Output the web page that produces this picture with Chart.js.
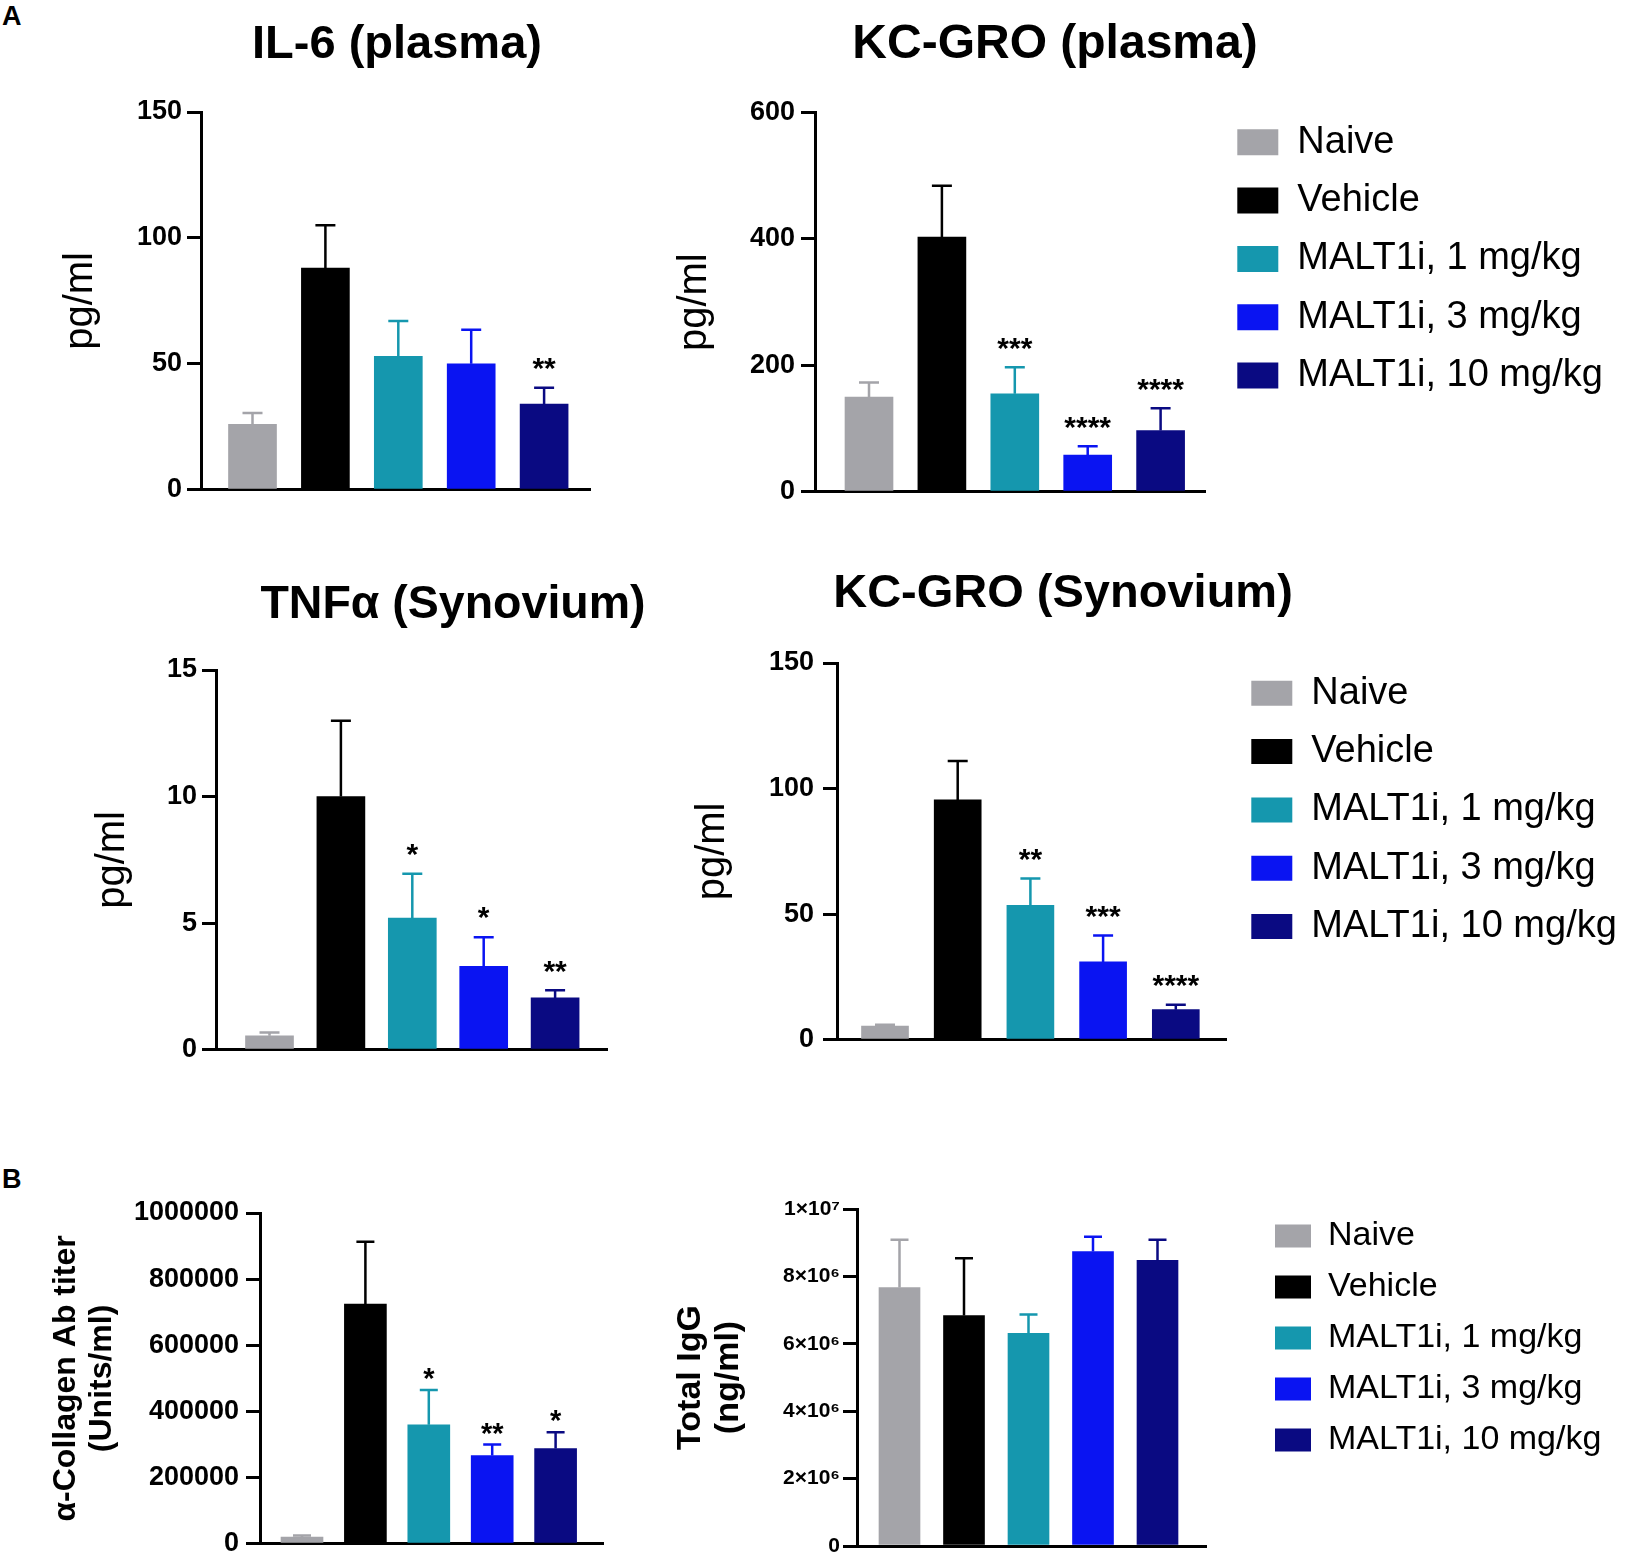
<!DOCTYPE html>
<html>
<head>
<meta charset="utf-8">
<title>MALT1i: cytokines and antibody titers</title>
<script src="https://cdn.jsdelivr.net/npm/chart.js@4.4.1/dist/chart.umd.min.js"></script>
<style>
  body { margin: 0; background: #fff; }
  #fig { position: relative; width: 1630px; height: 1565px; overflow: hidden; }
  #fig canvas { position: absolute; }
  .tag { position: absolute; font: bold 27px/27px "Liberation Sans", Arial, sans-serif; color: #000; }
</style>
</head>
<body>
<div id="fig">
  <div class="tag" style="left:2px;top:3px">A</div>
  <div class="tag" style="left:2px;top:1166px">B</div>
</div>
<script>
var groups = ['Naive', 'Vehicle', 'MALT1i, 1 mg/kg', 'MALT1i, 3 mg/kg', 'MALT1i, 10 mg/kg'];
var groupColors = ['#a4a4a9', '#000000', '#1597ae', '#0a14f2', '#0a0a82'];

// IL-6 (plasma), pg/ml
var il6Mean = [26, 88, 53, 50, 34];
var il6Sem = [4.5, 17, 14, 13.5, 6.5];
var il6Stars = ['', '', '', '', '**'];
var il6Ticks = [0, 50, 100, 150];

// KC-GRO (plasma), pg/ml
var kcPlasmaMean = [150, 403, 155, 58, 97];
var kcPlasmaSem = [23, 81, 42, 14, 35];
var kcPlasmaStars = ['', '', '***', '****', '****'];
var kcPlasmaTicks = [0, 200, 400, 600];

// TNFa (synovium), pg/ml
var tnfMean = [0.55, 10, 5.2, 3.3, 2.05];
var tnfSem = [0.13, 3.0, 1.75, 1.15, 0.3];
var tnfStars = ['', '', '*', '*', '**'];
var tnfTicks = [0, 5, 10, 15];

// KC-GRO (synovium), pg/ml
var kcSynMean = [5.5, 95.5, 53.5, 31, 12];
var kcSynSem = [0.5, 15.5, 10.7, 10.5, 2];
var kcSynStars = ['', '', '**', '***', '****'];
var kcSynTicks = [0, 50, 100, 150];

// anti-collagen Ab titer, units/ml
var collagenMean = [20000, 725000, 360000, 267000, 288000];
var collagenSem = [5000, 188000, 105000, 33000, 49000];
var collagenStars = ['', '', '*', '**', '*'];
var collagenTicks = [0, 200000, 400000, 600000, 800000, 1000000];

// total IgG, ng/ml
var iggMean = [7670000, 6840000, 6310000, 8740000, 8480000];
var iggSem = [1420000, 1700000, 560000, 440000, 610000];
var iggTicks = [0, 2000000, 4000000, 6000000, 8000000, 10000000];

var FONT = '"Liberation Sans", Arial, sans-serif';
Chart.defaults.font.family = FONT;
Chart.defaults.color = '#000';

function sup(n) {
  return String(n).split('').map(function(c) { return '⁰¹²³⁴⁵⁶⁷⁸⁹'[c]; }).join('');
}
function sciLabel(v) {
  if (v === 0) return '0';
  var e = Math.floor(Math.log10(v));
  return Math.round(v / Math.pow(10, e)) + '×10' + sup(e);
}

function makeCanvas(id, left, top, w, h) {
  var c = document.createElement('canvas');
  c.id = id;
  c.width = w;
  c.height = h;
  c.style.left = left + 'px';
  c.style.top = top + 'px';
  c.style.width = w + 'px';
  c.style.height = h + 'px';
  document.getElementById('fig').appendChild(c);
  return c;
}

// upward SEM whiskers + significance stars
var errorBarPlugin = {
  id: 'errorBars',
  afterDatasetsDraw: function(chart) {
    var ctx = chart.ctx, x = chart.scales.x, y = chart.scales.y;
    var ds = chart.data.datasets[0];
    var capW = ds.capWidth;
    ds.data.forEach(function(pt, i) {
      var px = x.getPixelForValue(pt.x);
      var top = y.getPixelForValue(pt.y);
      var cap = y.getPixelForValue(pt.y + ds.sem[i]);
      ctx.save();
      ctx.strokeStyle = groupColors[i];
      ctx.lineWidth = 2.5;
      ctx.beginPath();
      ctx.moveTo(px, top);
      ctx.lineTo(px, cap);
      ctx.moveTo(px - capW / 2, cap);
      ctx.lineTo(px + capW / 2, cap);
      ctx.stroke();
      if (ds.stars && ds.stars[i]) {
        ctx.fillStyle = '#000';
        ctx.font = ds.starFont;
        ctx.textAlign = 'center';
        ctx.textBaseline = 'middle';
        ctx.fillText(ds.stars[i], px, cap - ds.starGap);
      }
      ctx.restore();
    });
  }
};

function drawPanel(id, g, d) {
  var canvas = makeCanvas(id, g.L, g.T, g.E - g.L, g.yBottom - g.T + 20);
  var titleLh = g.titleSize * 1.2;
  var yTitleLh = g.yTitleSize * g.yTitleLine;
  new Chart(canvas, {
    type: 'bar',
    data: {
      datasets: [{
        data: d.mean.map(function(v, i) { return {x: i, y: v}; }),
        sem: d.sem,
        stars: d.stars,
        capWidth: g.capW,
        starFont: g.starFont,
        starGap: g.starGap,
        backgroundColor: groupColors,
        barThickness: g.barW,
        xAxisID: 'x',
        yAxisID: 'y'
      }]
    },
    options: {
      responsive: false,
      animation: false,
      layout: { padding: { top: d.title ? 0 : g.yTop - g.T } },
      plugins: {
        legend: { display: false },
        tooltip: { enabled: false },
        title: d.title ? {
          display: true,
          text: d.title,
          color: '#000',
          font: { size: g.titleSize, weight: 'bold' },
          padding: { top: g.titleCY - g.T - titleLh / 2, bottom: g.yTop - g.titleCY - titleLh / 2 }
        } : { display: false }
      },
      scales: {
        x: {
          type: 'linear',
          offset: false,
          min: (g.axisX - g.firstBar) / g.barStep,
          max: (g.xEnd - g.firstBar) / g.barStep,
          ticks: { display: false },
          grid: { display: false },
          border: { width: 3, color: '#000' },
          afterFit: function(s) { s.height = 20; }
        },
        y: {
          type: 'linear',
          min: 0,
          max: d.ticks[d.ticks.length - 1],
          afterBuildTicks: function(s) { s.ticks = d.ticks.map(function(v) { return {value: v}; }); },
          ticks: {
            color: '#000',
            font: { size: g.tickSize, weight: 'bold' },
            padding: g.tickPad,
            callback: d.tickLabel || function(v) { return String(v); }
          },
          grid: { drawOnChartArea: false, tickLength: 14, lineWidth: 3, color: '#000' },
          border: { width: 3, color: '#000' },
          title: {
            display: true,
            text: d.yTitle,
            color: '#000',
            font: { size: g.yTitleSize, weight: g.yTitleWeight, lineHeight: g.yTitleLine },
            padding: { top: g.yTitleX - g.L - yTitleLh / 2, bottom: 0 }
          },
          afterFit: function(s) { s.width = g.axisX - g.L; }
        },
        pad: {
          type: 'linear',
          position: 'right',
          ticks: { display: false },
          grid: { display: false },
          border: { display: false },
          afterFit: function(s) { s.width = g.E - g.xEnd; }
        }
      }
    },
    plugins: [errorBarPlugin]
  });
}

function drawLegend(id, g) {
  var canvas = makeCanvas(id, g.L, g.T, g.W, 360);
  new Chart(canvas, {
    type: 'bar',
    data: { labels: groups, datasets: [{ data: [] }] },
    options: {
      responsive: false,
      animation: false,
      scales: { x: { display: false }, y: { display: false } },
      plugins: {
        tooltip: { enabled: false },
        legend: {
          position: 'chartArea',
          align: 'start',
          labels: {
            boxWidth: g.boxW,
            boxHeight: g.boxH,
            padding: g.pad,
            color: '#000',
            font: { size: g.fontSize },
            generateLabels: function() {
              return groups.map(function(t, i) {
                return { text: t, fillStyle: groupColors[i], strokeStyle: groupColors[i], lineWidth: 0, hidden: false, index: i };
              });
            }
          }
        }
      }
    }
  });
}

var starA = 'bold 30px ' + FONT;
var starB = 'bold 29px ' + FONT;

drawPanel('il6', {
  L: 0, T: 0, E: 794, axisX: 201, xEnd: 590, yTop: 112, yBottom: 491,
  titleCY: 45, titleSize: 47,
  yTitleX: 81, yTitleSize: 40, yTitleWeight: 'normal', yTitleLine: 1.2,
  tickSize: 27, tickPad: 5, firstBar: 252.5, barStep: 72.9, barW: 48, capW: 20, starFont: starA, starGap: 18
}, { title: 'IL-6 (plasma)', yTitle: 'pg/ml', mean: il6Mean, sem: il6Sem, stars: il6Stars, ticks: il6Ticks });

drawPanel('kcPlasma', {
  L: 640, T: 0, E: 1470, axisX: 815, xEnd: 1205, yTop: 112.5, yBottom: 494,
  titleCY: 45, titleSize: 48,
  yTitleX: 695, yTitleSize: 40, yTitleWeight: 'normal', yTitleLine: 1.2,
  tickSize: 27, tickPad: 6, firstBar: 869, barStep: 72.9, barW: 48, capW: 20, starFont: starA, starGap: 18
}, { title: 'KC-GRO (plasma)', yTitle: 'pg/ml', mean: kcPlasmaMean, sem: kcPlasmaSem, stars: kcPlasmaStars, ticks: kcPlasmaTicks });

drawPanel('tnf', {
  L: 0, T: 540, E: 906, axisX: 216, xEnd: 607, yTop: 670, yBottom: 1051,
  titleCY: 605, titleSize: 46.5,
  yTitleX: 113, yTitleSize: 40, yTitleWeight: 'normal', yTitleLine: 1.2,
  tickSize: 27, tickPad: 5, firstBar: 269.5, barStep: 71.4, barW: 48, capW: 20, starFont: starA, starGap: 18
}, { title: 'TNFα (Synovium)', yTitle: 'pg/ml', mean: tnfMean, sem: tnfSem, stars: tnfStars, ticks: tnfTicks });

drawPanel('kcSyn', {
  L: 660, T: 540, E: 1466, axisX: 837, xEnd: 1226, yTop: 663, yBottom: 1045,
  titleCY: 594, titleSize: 47,
  yTitleX: 713, yTitleSize: 40, yTitleWeight: 'normal', yTitleLine: 1.2,
  tickSize: 27, tickPad: 9, firstBar: 885, barStep: 72.7, barW: 47, capW: 20, starFont: starA, starGap: 18
}, { title: 'KC-GRO (Synovium)', yTitle: 'pg/ml', mean: kcSynMean, sem: kcSynSem, stars: kcSynStars, ticks: kcSynTicks });

drawPanel('collagen', {
  L: 0, T: 1180, E: 613, axisX: 260, xEnd: 603, yTop: 1213, yBottom: 1547,
  titleSize: 0,
  yTitleX: 66.5, yTitleSize: 32, yTitleWeight: 'bold', yTitleLine: 1.1,
  tickSize: 27, tickPad: 7, firstBar: 302, barStep: 63.4, barW: 42, capW: 18, starFont: starB, starGap: 10
}, { yTitle: ['α-Collagen Ab titer', '(Units/ml)'], mean: collagenMean, sem: collagenSem, stars: collagenStars, ticks: collagenTicks });

drawPanel('igg', {
  L: 640, T: 1180, E: 1216, axisX: 857, xEnd: 1206, yTop: 1209, yBottom: 1546,
  titleSize: 0,
  yTitleX: 691, yTitleSize: 34, yTitleWeight: 'bold', yTitleLine: 1.1,
  tickSize: 21, tickPad: 3, firstBar: 899.5, barStep: 64.5, barW: 41, capW: 18, starFont: starB, starGap: 10
}, { yTitle: ['Total IgG', '(ng/ml)'], mean: iggMean, sem: iggSem, stars: [], ticks: iggTicks, tickLabel: sciLabel });

drawLegend('legendTop', { L: 1217.2, T: 103.2, W: 410, boxW: 41, boxH: 26, pad: 20.3, fontSize: 38 });
drawLegend('legendMid', { L: 1231.2, T: 654.2, W: 398, boxW: 41, boxH: 25, pad: 20.3, fontSize: 38 });
drawLegend('legendBottom', { L: 1258, T: 1202, W: 372, boxW: 36, boxH: 23, pad: 17, fontSize: 34 });
</script>
</body>
</html>
